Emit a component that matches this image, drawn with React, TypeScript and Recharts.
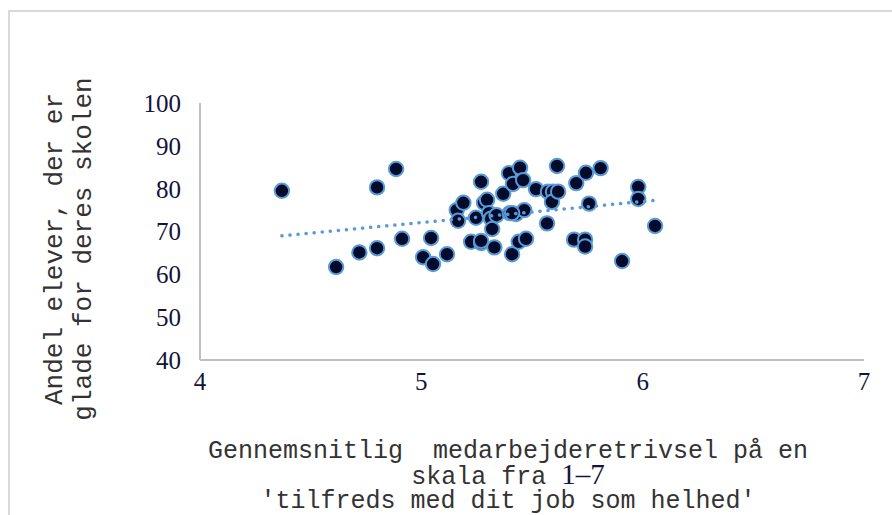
import { ScatterChart, Scatter, XAxis, YAxis } from 'recharts';

// Gennemsnitlig medarbejdertrivsel (x) mod andel glade elever (y)
const trivsel = [
  4.37, 4.615, 4.72, 4.8, 4.8, 4.886, 4.913, 5.008, 5.044, 5.053,
  5.116, 5.16, 5.166, 5.19, 5.225, 5.247, 5.27, 5.27, 5.283, 5.297,
  5.306, 5.315, 5.32, 5.33, 5.34, 5.37, 5.396, 5.4, 5.41, 5.414,
  5.428, 5.44, 5.446, 5.46, 5.465, 5.473, 5.518, 5.568, 5.572, 5.595,
  5.59, 5.618, 5.613, 5.7, 5.69, 5.744, 5.74, 5.74, 5.758, 5.81,
  5.907, 5.98, 5.98, 6.056, 5.27, 5.41,
];
const gladeElever = [
  79.5, 61.7, 65.1, 80.3, 66.1, 84.6, 68.3, 64.0, 68.5, 62.4,
  64.7, 75.0, 72.5, 76.7, 67.6, 73.2, 81.6, 67.3, 76.7, 77.4,
  74.3, 73.0, 70.6, 66.3, 73.8, 78.8, 83.6, 74.3, 64.7, 81.1,
  74.1, 67.6, 84.9, 82.0, 75.0, 68.3, 79.9, 71.9, 79.3, 79.3,
  76.9, 79.3, 85.3, 81.3, 68.1, 83.7, 68.1, 66.5, 76.5, 84.8,
  63.1, 80.4, 77.6, 71.3, 67.8, 74.3,
];

// trendlinje, endepunkter aflæst
const trendX = [4.37, 6.06];
const trendY = [69.0, 77.3];

const xTicks = [4, 5, 6, 7];
const yTicks = [40, 50, 60, 70, 80, 90, 100];

const yTitle = ['Andel elever, der er', 'glade for deres skolen'];
const xTitle1 = 'Gennemsnitlig  medarbejderetrivsel på en';
const xTitle2a = 'skala fra ';
const xTitle2b = '1–7';
const xTitle3 = "'tilfreds med dit job som helhed'";

const points = trivsel.map((x, i) => ({ x, y: gladeElever[i] }));
const trend = trendX.map((x, i) => ({ x, y: trendY[i] }));

const mono = "'Liberation Mono', 'Courier New', monospace";
const serif = "'Liberation Serif', 'Times New Roman', serif";
const tickStyle = { fontFamily: serif, fontSize: 25, fill: '#12143a' };

const Dot = (props: any) => (
  <circle cx={props.cx} cy={props.cy} r={7.2} fill="#020b2c" stroke="#5b9bd5" strokeWidth={2} />
);

export default function App() {
  return (
    <div style={{ position: 'absolute', left: 0, top: 0, width: 892, height: 515, overflow: 'hidden', background: '#fff' }}>
      <div
        style={{
          position: 'absolute', left: 8, top: 10, width: 900, height: 600,
          borderLeft: '2px solid #d9d9d9', borderTop: '2px solid #d9d9d9',
        }}
      />
      <div style={{ position: 'absolute', left: 0, top: 0 }}>
        <ScatterChart width={892} height={515} margin={{ top: 103, right: 28, left: 140, bottom: 115 }}>
          <XAxis
            type="number" dataKey="x" domain={[4, 7]} ticks={xTicks} height={40}
            axisLine={{ stroke: '#bfbfbf', strokeWidth: 2 }} tickLine={false}
            tickSize={0} tickMargin={12} tick={tickStyle}
          />
          <YAxis
            type="number" dataKey="y" domain={[40, 100]} ticks={yTicks} width={60}
            axisLine={{ stroke: '#bfbfbf', strokeWidth: 2 }} tickLine={false}
            tickSize={0} tickMargin={19} tick={tickStyle}
          />
          <Scatter data={points} shape={Dot} isAnimationActive={false} />
          <Scatter
            data={trend}
            line={{ stroke: '#5b9bd5', strokeWidth: 3.5, strokeDasharray: '0.1 8', strokeLinecap: 'round' }}
            shape={() => <g />}
            isAnimationActive={false}
          />
        </ScatterChart>
      </div>
      <svg width={892} height={515} style={{ position: 'absolute', left: 0, top: 0, pointerEvents: 'none' }}>
        <text transform="rotate(-90)" textAnchor="middle" fontFamily={mono} fontSize={26} fill="#333">
          <tspan x={-249} y={62}>{yTitle[0]}</tspan>
          <tspan x={-249} y={91}>{yTitle[1]}</tspan>
        </text>
        <text x={508} y={458} textAnchor="middle" fontFamily={mono} fontSize={25} fill="#333" style={{ whiteSpace: 'pre' }}>
          {xTitle1}
        </text>
        <text x={508} y={484} textAnchor="middle" fontFamily={mono} fontSize={25} fill="#333" style={{ whiteSpace: 'pre' }}>
          {xTitle2a}
          <tspan fontFamily={serif} fontSize={29} fill="#12143a">{xTitle2b}</tspan>
        </text>
        <text x={508} y={508} textAnchor="middle" fontFamily={mono} fontSize={25} fill="#333">
          {xTitle3}
        </text>
      </svg>
    </div>
  );
}
